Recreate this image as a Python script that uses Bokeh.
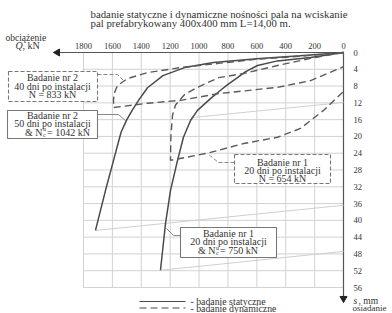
from bokeh.plotting import figure
from bokeh.models import Range1d
from bokeh.core.properties import value
from bokeh.embed import file_html
from bokeh.resources import INLINE
import math

# ---------------- data ----------------
q_ticks = [1800, 1600, 1400, 1200, 1000, 800, 600, 400, 200, 0]
q_tick_labels = ["1800", "1600", "1400", "1200", "1000", "800", "600", "400", "200", "0"]
s_ticks = [0, 4, 8, 12, 16, 20, 24, 28, 32, 36, 40, 44, 48, 52, 56]
s_tick_labels = [str(v) for v in s_ticks]

# Badanie nr 2, 50 dni - static (solid)
a_q = [0, 300, 600, 900, 1100, 1250, 1357, 1419, 1460, 1500, 1540, 1592, 1648, 1717]
a_s = [0, 0.8, 1.5, 2.4, 3.6, 5.5, 8.4, 11.4, 13.6, 16.0, 19.0, 25.7, 32.9, 42.4]
# unloading (faint)
a_uq = [1717, 0]
a_us = [42.4, 36.4]

# Badanie nr 1, 20 dni - static (solid)
b_q = [0, 228, 457, 595, 680, 734, 800, 851, 921, 1011, 1059, 1108, 1149, 1198, 1232, 1267]
b_s = [0, 1.2, 2.0, 3.1, 4.6, 6.0, 7.6, 9.0, 11.0, 13.8, 16.2, 20.2, 25.7, 32.9, 40.7, 51.9]
b_uq = [1267, 0]
b_us = [51.9, 47.4]
b_u2q = [1045, 0]
b_u2s = [15.5, 11.9]

# Badanie nr 2, 40 dni - dynamic (dashed)
c_q = [0, 300, 600, 865, 1128, 1357, 1495, 1565, 1585, 1592, 1592,
       1357, 1128, 865, 457, 228, 0]
c_s = [0, 0.9, 1.6, 2.6, 3.6, 4.8, 6.2, 7.9, 9.5, 11.0, 13.1,
       12.1, 11.4, 9.8, 8.3, 6.7, 3.4]

# Badanie nr 1, 20 dni - dynamic (dashed)
d_q = [0, 228, 457, 692, 865, 1011, 1100, 1163, 1184, 1195, 1198,
       942, 865, 692, 457, 298, 138, 0]
d_s = [0, 1.4, 3.1, 5.0, 6.0, 8.3, 10.0, 12.5, 15.0, 20.0, 25.7,
       24.0, 23.3, 21.7, 20.2, 18.1, 13.8, 9.3]


# ---------------- pixel helpers for annotation placement ----------------
def qx(px):
    return (343 - px) * 1800 / 260


def sy(py):
    return (py - 52) * 56 / 235


FONT = value("Liberation Serif")
CURVE = "#4a4a4a"
GRID = "#d2d2d2"
FAINT = "#cfcfcf"

p = figure(width=392, height=313, output_backend="svg", toolbar_location=None,
           x_range=Range1d(qx(0), qx(392)), y_range=Range1d(sy(313), sy(0)),
           min_border=0, outline_line_color=None)
p.axis.visible = False
p.grid.visible = False
p.background_fill_color = "white"

# grid
gq = [q for q in q_ticks if q > 0]
p.segment(x0=gq, y0=[0] * len(gq), x1=gq, y1=[56] * len(gq), line_color=GRID, line_width=1)
gs = [s for s in s_ticks if s > 0]
p.segment(x0=[0] * len(gs), y0=gs, x1=[1800] * len(gs), y1=gs, line_color=GRID, line_width=1)

# axes lines + arrows
p.segment(x0=[qx(53)], y0=[0], x1=[0], y1=[0], line_color="#555555", line_width=1.2)
p.segment(x0=[0], y0=[0], x1=[0], y1=[sy(300)], line_color="#555555", line_width=1.2)
p.scatter(x=[qx(57)], y=[0], marker="triangle", size=7, angle=math.pi / 2,
          fill_color="#222222", line_color="#222222")
p.scatter(x=[0], y=[sy(298)], marker="triangle", size=7, angle=math.pi,
          fill_color="#222222", line_color="#222222")

# faint unloading lines
for xs, ys in [(a_uq, a_us), (b_uq, b_us), (b_u2q, b_u2s)]:
    p.line(xs, ys, line_color=FAINT, line_width=1)

# curves
p.line(a_q, a_s, line_color=CURVE, line_width=1.5)
p.line(b_q, b_s, line_color=CURVE, line_width=1.5)
p.line(c_q, c_s, line_color="#5a5a5a", line_width=1.4, line_dash="7 4")
p.line(d_q, d_s, line_color="#5a5a5a", line_width=1.4, line_dash="7 4")

# leaders
p.line([qx(97), qx(117), qx(124)], [sy(74), sy(74), sy(81)], line_color="#888888", line_width=1, line_dash="4 2")
p.line([qx(97), qx(118), qx(126)], [sy(114), sy(114), sy(121)], line_color="#888888", line_width=1)
p.line([qx(234), qx(218), qx(207)], [sy(162), sy(162), sy(153)], line_color="#888888", line_width=1, line_dash="4 2")
p.line([qx(180), qx(173), qx(166)], [sy(235), sy(235), sy(228)], line_color="#888888", line_width=1)

# boxes
boxes = [((8, 71, 97, 101), "4 2"), ((7, 110, 97, 138), "solid"),
         ((234, 154, 330, 183), "4 2"), ((180, 227, 276, 257), "solid")]
for (x0, y0, x1, y1), dash in boxes:
    p.quad(left=qx(x0), right=qx(x1), top=sy(y0), bottom=sy(y1), fill_color="white",
           line_color="#777777", line_width=1.1, line_dash=dash)


def txt(px, py, s, size="9px", align="left", style="normal", color="#333333"):
    p.text(x=[qx(px)], y=[sy(py)], text=[s], text_font=FONT, text_font_size=size,
           text_align=align, text_baseline="middle", text_color=color, text_font_style=style)


BT = "10px"
# box texts
txt(52, 77, "Badanie nr 2", BT, "center")
txt(52, 85.5, "40 dni po instalacji", BT, "center")
txt(52, 94, "N = 833 kN", BT, "center")

txt(52, 115, "Badanie nr 2", BT, "center")
txt(52, 123, "50 dni po instalacji", BT, "center")
txt(42, 131.5, "& N", BT, "right")
txt(42.5, 128.5, "u", "6px")
txt(42.5, 134, "c", "6px")
txt(46.5, 131.5, "= 1042 kN", BT)

txt(282, 162, "Badanie nr 1", BT, "center")
txt(282, 170, "20 dni po instalacji", BT, "center")
txt(282, 178, "N = 654 kN", BT, "center")

txt(228, 233, "Badanie nr 1", BT, "center")
txt(228, 241, "20 dni po instalacji", BT, "center")
txt(215, 250, "& N", BT, "right")
txt(215.5, 247, "u", "6px")
txt(215.5, 252.5, "c", "6px")
txt(219.5, 250, "= 750 kN", BT)

# title
txt(90, 13, "badanie statyczne i dynamiczne nośności  pala na wciskanie", "10.8px")
txt(90, 22, "pal prefabrykowany 400x400 mm L=14,00 m.", "10.8px")

# axis texts
txt(5, 37, "obciążenie", "9.5px")
txt(15, 45, "Q", "10px", style="italic")
txt(22, 45, ", kN", "10px")
p.text(x=q_ticks, y=[sy(45)] * len(q_ticks), text=q_tick_labels, text_font=FONT,
       text_font_size="8.5px", text_align="center", text_baseline="middle", text_color="#333333")
p.text(x=[qx(353)] * len(s_ticks), y=s_ticks, text=s_tick_labels, text_font=FONT,
       text_font_size="8.5px", text_align="left", text_baseline="middle", text_color="#333333")
txt(353, 300, "s", "9.5px", style="italic")
txt(358, 300, ", mm", "9.5px")
txt(352, 307.5, "osiadanie", "9px")

# legend
p.line([qx(139), qx(185)], [sy(301), sy(301)], line_color=CURVE, line_width=1.2)
p.line([qx(139), qx(185)], [sy(307.5), sy(307.5)], line_color=CURVE, line_width=1.2, line_dash="7 4")
txt(190, 301, "- badanie statyczne", "9.8px")
txt(190, 307.5, "- badanie dynamiczne", "9.8px")

open("out.html", "w").write(file_html(p, INLINE))
